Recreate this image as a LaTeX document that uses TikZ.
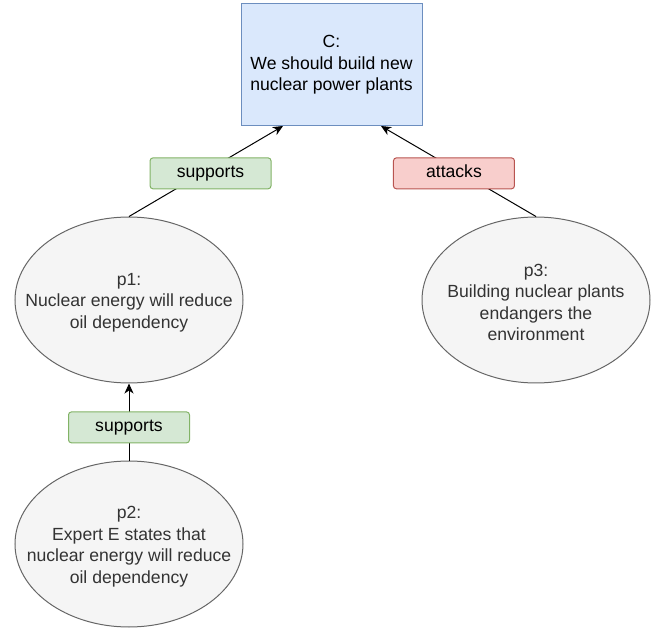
\documentclass[tikz,border=0pt]{standalone}
\usepackage{fontspec}
\setmainfont{Liberation Sans}
\usetikzlibrary{shapes.geometric,arrows.meta}
\definecolor{claimfill}{HTML}{DAE8FC}
\definecolor{claimline}{HTML}{6C8EBF}
\definecolor{supfill}{HTML}{D5E8D4}
\definecolor{supline}{HTML}{82B366}
\definecolor{attfill}{HTML}{F8CECC}
\definecolor{attline}{HTML}{B85450}
\definecolor{premfill}{HTML}{F5F5F5}
\definecolor{premline}{HTML}{666666}
\definecolor{premtext}{HTML}{333333}
\tikzset{
  claimbox/.style={draw=claimline, fill=claimfill, line width=1pt, minimum width=181, minimum height=122, inner sep=0pt, align=center},
  premise/.style={ellipse, draw=premline, fill=premfill, line width=1pt, minimum width=228, minimum height=166, inner sep=0pt},
  premlabel/.style={text=premtext, align=center, inner sep=0pt, yshift=-2.5pt},
  supbox/.style={draw=supline, fill=supfill, line width=1pt, rounded corners=3pt, minimum width=121, minimum height=31, inner sep=0pt, text height=1em, text depth=0.2em},
  attbox/.style={draw=attline, fill=attfill, line width=1pt, rounded corners=3pt, minimum width=121, minimum height=31, inner sep=0pt, text height=1em, text depth=0.2em},
  arr/.style={line width=1pt, -{Stealth[length=10pt, width=9pt, inset=3pt]}}
}
\begin{document}
\begin{tikzpicture}[x=1pt, y=-1pt, font=\fontsize{17.6}{21.5}\selectfont]
    \useasboundingbox (0,0) rectangle (659,628);
    % claim
    \node[claimbox] (C) at (331.5,65) {C:\\We should build new\\nuclear power plants};
    % premises
    \node[premise] (p1) at (129,300) {};
    \node[premlabel] (p1text) at (p1) {p1:\\Nuclear energy will reduce\\oil dependency};
    \node[premise] (p3) at (536,300) {};
    \node[premlabel] (p3text) at (p3) {p3:\\Building nuclear plants\\endangers the\\environment};
    \node[premise] (p2) at (129,544) {};
    \node[premlabel] (p2text) at (p2) {p2:\\Expert E states that\\nuclear energy will reduce\\oil dependency};
    \coordinate (Cl) at (283,126);
    \coordinate (Cr) at (381,126);
    % relations
    \draw[arr] (p1.north) -- node[supbox, pos=0.51, xshift=3pt, yshift=-3pt]{supports} (Cl);
    \draw[arr] (p3.north) -- node[attbox, pos=0.51, xshift=-3pt, yshift=-3pt]{attacks} (Cr);
    \draw[arr] (p2.north) -- node[supbox, pos=0.43]{supports} (p1.south);
\end{tikzpicture}
\end{document}
